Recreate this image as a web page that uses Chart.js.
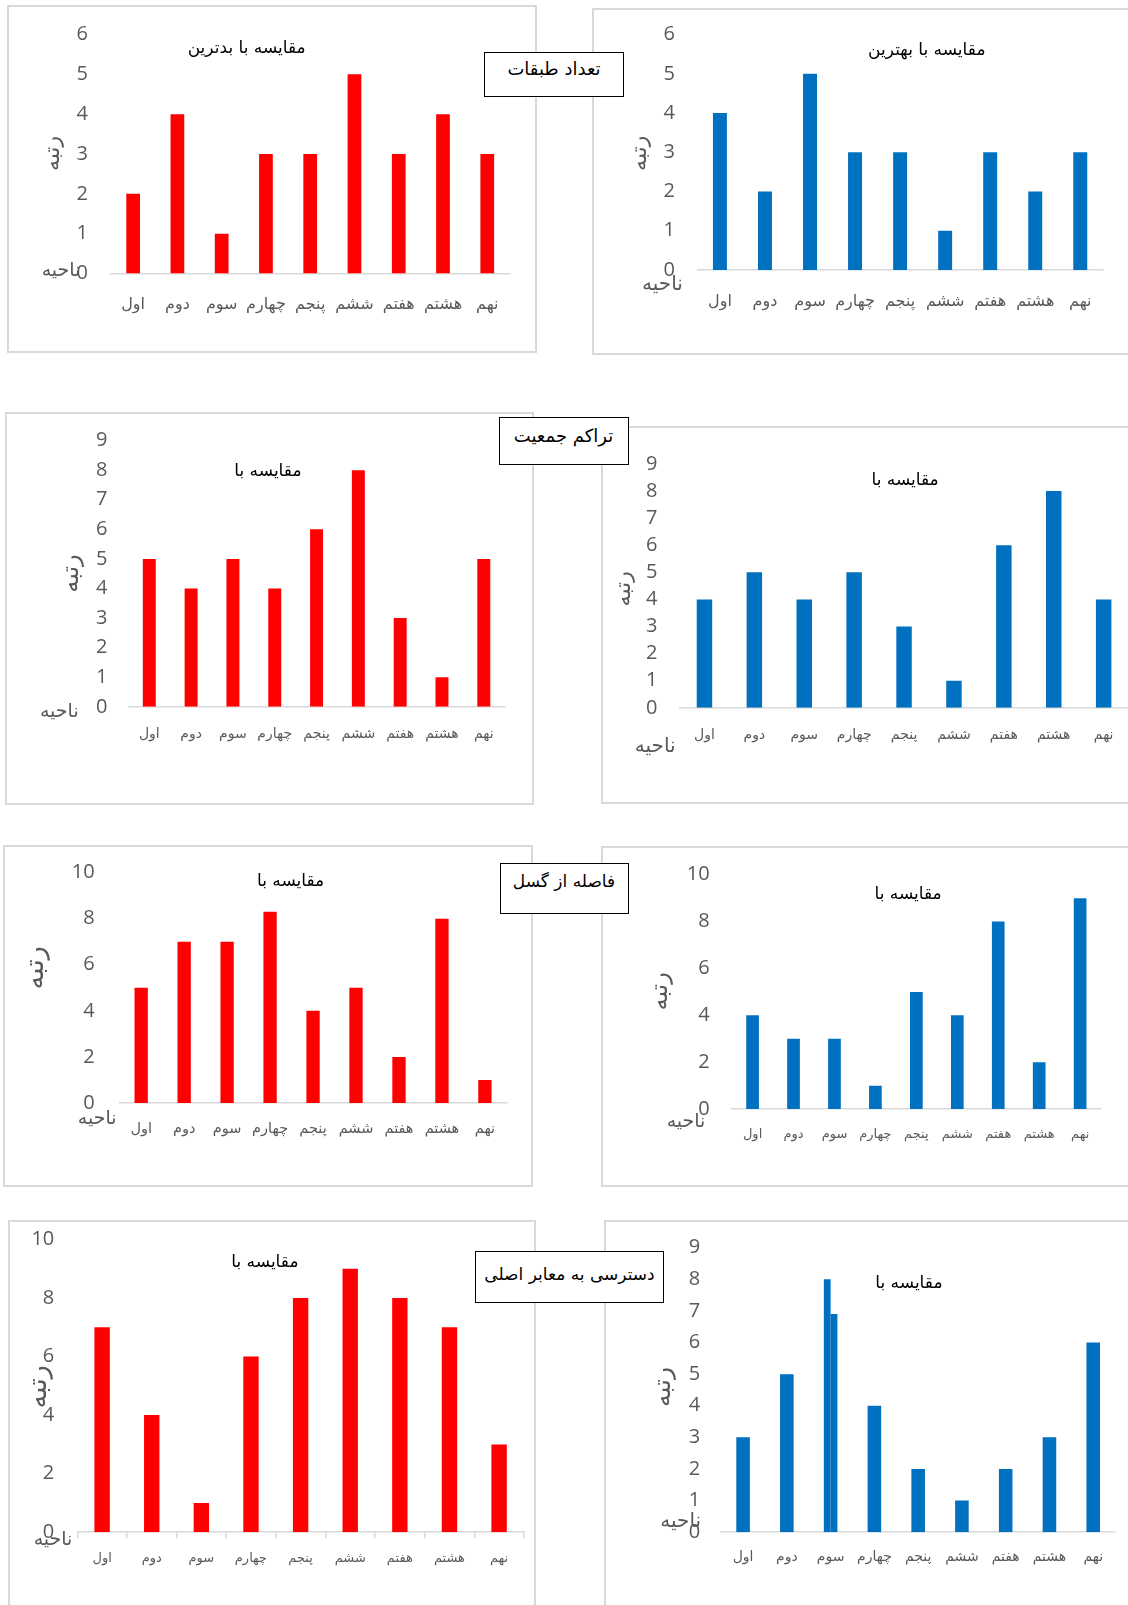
<!DOCTYPE html>
<html lang="fa">
<head>
<meta charset="utf-8">
<script src="https://cdn.jsdelivr.net/npm/chart.js@4.4.1/dist/chart.umd.min.js"></script>
<style>
  html, body { margin: 0; padding: 0; background: #fff; }
  body { width: 1128px; height: 1605px; position: relative; overflow: hidden; }
  .frame { position: absolute; box-sizing: border-box; border: 2px solid #d9d9d9; }
  canvas.panel { position: absolute; }
  .group-label {
    position: absolute; box-sizing: border-box; border: 1.5px solid #000; background: #fff;
    font-family: 'DejaVu Sans', sans-serif; line-height: 20px; color: #000;
    text-align: center; direction: rtl; white-space: nowrap; z-index: 5;
  }
</style>
</head>
<body>
<script>
// Districts (x categories)
const categories = ['اول', 'دوم', 'سوم', 'چهارم', 'پنجم', 'ششم', 'هفتم', 'هشتم', 'نهم'];

// Rank of each district, compared with the worst / the best
const floorsWorst  = [2, 4, 1, 3, 3, 5, 3, 4, 3];
const floorsBest   = [4, 2, 5, 3, 3, 1, 3, 2, 3];
const densityWorst = [5, 4, 5, 4, 6, 8, 3, 1, 5];
const densityBest  = [4, 5, 4, 5, 3, 1, 6, 8, 4];
const faultWorst   = [5, 7, 7, 8.3, 4, 5, 2, 8, 1];
const faultBest    = [4, 3, 3, 1, 5, 4, 8, 2, 9];
const roadsWorst   = [7, 4, 1, 6, 8, 9, 8, 7, 3];
const roadsBest    = [3, 5, 6.9, 4, 2, 1, 2, 3, 6];
const roadsBestPeak = [null, null, 8, null, null, null, null, null, null];

// Value axis range and tick step of each panel
const yMax  = [6, 6, 9, 9, 10, 10, 10, 9];
const yStep = [1, 1, 1, 1, 2, 2, 2, 1];

const panelTitles = ['مقایسه با بدترین', 'مقایسه با بهترین', 'مقایسه با', 'مقایسه با',
                     'مقایسه با', 'مقایسه با', 'مقایسه با', 'مقایسه با'];
const groupTitles = ['تعداد طبقات', 'تراکم جمعیت', 'فاصله از گسل', 'دسترسی به معابر اصلی'];
const yAxisTitle = 'رتبه';
const xAxisTitle = 'ناحیه';

const RED = '#FF0000';
const BLUE = '#0070C0';

const series = [
  { values: floorsWorst,  color: RED },
  { values: floorsBest,   color: BLUE },
  { values: densityWorst, color: RED },
  { values: densityBest,  color: BLUE },
  { values: faultWorst,   color: RED },
  { values: faultBest,    color: BLUE },
  { values: roadsWorst,   color: RED },
  { values: roadsBest,    color: BLUE, peak: roadsBestPeak }
];

// Page layout: frame [x, y, w, h], plot area [left, right, top, bottom],
// label paddings, font sizes and free text positions (page pixels)
const panels = [
  { box: [7, 5, 530, 348],        plot: [111, 509.4, 34.5, 273.5],    yPad: 23,   xPad: 22,  cat: 16, tick: 20,
    title: [246.7, 49],   yT: [53, 153.5],    xT: [61, 271],      ySize: 22, xSize: 19 },
  { box: [591.6, 8.2, 570, 347],  plot: [697, 1102.4, 34.8, 270.2],   yPad: 22.5, xPad: 22,  cat: 16, tick: 20,
    title: [926.4, 51.2], yT: [640, 153.5],   xT: [662, 284.5],   ySize: 22, xSize: 20 },
  { box: [5.1, 411.5, 529.2, 393],plot: [128.5, 505, 440.1, 706.3],   yPad: 21,   xPad: 19,  cat: 14, tick: 20,
    title: [268, 470.9],  yT: [71.6, 573],    xT: [59.4, 711.4],  ySize: 24, xSize: 19 },
  { box: [600.8, 425.8, 570, 378.7], plot: [679.3, 1128.4, 463.7, 707.3], yPad: 22, xPad: 19, cat: 14, tick: 20,
    title: [904.9, 480],  yT: [624.4, 588.6], xT: [655, 747],     ySize: 22, xSize: 20 },
  { box: [3.1, 844.5, 530.2, 342.9], plot: [119.8, 506.7, 872.1, 1102.4], yPad: 25, xPad: 18, cat: 14.5, tick: 20,
    title: [290.7, 881.3], yT: [35.8, 967.3], xT: [97.2, 1118.8], ySize: 27, xSize: 19 },
  { box: [600.8, 845.5, 570, 341.9], plot: [731.9, 1100.4, 874.2, 1108.5], yPad: 22.5, xPad: 18, cat: 13, tick: 20,
    title: [907.9, 893.6], yT: [660.2, 990.8], xT: [685.8, 1121.9], ySize: 24, xSize: 19 },
  { box: [8.2, 1220.1, 528.2, 420], plot: [77.5, 524.3, 1239.6, 1532.3], yPad: 23, xPad: 13, cat: 13, tick: 20,
    title: [265.1, 1263.1], yT: [38.9, 1387], xT: [53.2, 1540.5], ySize: 27, xSize: 19, tickMarks: true },
  { box: [604, 1220.1, 570, 420],   plot: [721.2, 1115.1, 1247.8, 1532.3], yPad: 21, xPad: 17, cat: 14, tick: 20,
    title: [908.9, 1283.6], yT: [663.3, 1387], xT: [680.7, 1522.1], ySize: 25, xSize: 20 }
];

// Framed group captions placed between the two panels of each row
const groupBoxes = [
  { rect: [484, 51.7, 140, 45.6],  padTop: 6,  size: 18 },
  { rect: [498.5, 416.6, 130, 48], padTop: 8,  size: 18 },
  { rect: [499.5, 862.9, 129, 51], padTop: 7,  size: 17 },
  { rect: [475, 1250.8, 189, 52],  padTop: 12, size: 17 }
];

// Draws the panel title and the two axis captions at fixed spots
const panelText = {
  id: 'panelText',
  afterDraw(chart, _args, o) {
    const ctx = chart.ctx;
    ctx.save();
    ctx.textAlign = 'center';
    ctx.textBaseline = 'middle';
    ctx.fillStyle = '#000';
    ctx.font = "17px 'DejaVu Sans', sans-serif";
    ctx.fillText(o.title, o.titleX, o.titleY);
    ctx.fillStyle = '#595959';
    ctx.font = o.xSize + "px 'DejaVu Sans', sans-serif";
    ctx.fillText(o.xTitle, o.xTitleX, o.xTitleY);
    ctx.font = o.ySize + "px 'DejaVu Sans', sans-serif";
    ctx.translate(o.yTitleX, o.yTitleY);
    ctx.rotate(-Math.PI / 2);
    ctx.fillText(o.yTitle, 0, 0);
    ctx.restore();
  }
};

panels.forEach((p, i) => {
  const [bx, by, bw, bh] = p.box;
  const [pl, pr, pt, pb] = p.plot;

  const frame = document.createElement('div');
  frame.className = 'frame';
  Object.assign(frame.style, { left: bx + 'px', top: by + 'px', width: bw + 'px', height: bh + 'px' });
  document.body.appendChild(frame);

  const cv = document.createElement('canvas');
  cv.className = 'panel';
  cv.width = Math.round(bw);
  cv.height = Math.round(bh);
  Object.assign(cv.style, { left: bx + 'px', top: by + 'px' });
  document.body.appendChild(cv);

  const s = series[i];
  const barStyle = { backgroundColor: s.color, borderWidth: 0, skipNull: true,
                     categoryPercentage: 0.31, barPercentage: 1 };
  const datasets = [];
  if (s.peak) datasets.push(Object.assign({ data: s.peak }, barStyle));
  datasets.push(Object.assign({ data: s.values }, barStyle));

  new Chart(cv, {
    type: 'bar',
    data: { labels: categories, datasets },
    options: {
      responsive: false,
      animation: false,
      events: [],
      layout: { padding: { left: 0, top: pt - by, right: bx + bw - pr, bottom: 0 } },
      plugins: {
        legend: { display: false },
        tooltip: { enabled: false },
        panelText: {
          title: panelTitles[i], titleX: p.title[0] - bx, titleY: p.title[1] - by,
          yTitle: yAxisTitle, yTitleX: p.yT[0] - bx, yTitleY: p.yT[1] - by, ySize: p.ySize,
          xTitle: xAxisTitle, xTitleX: p.xT[0] - bx, xTitleY: p.xT[1] - by, xSize: p.xSize
        }
      },
      scales: {
        x: {
          offset: true,
          grid: { display: !!p.tickMarks, drawOnChartArea: false, drawTicks: !!p.tickMarks,
                  tickLength: 6, offset: true, color: '#d9d9d9', lineWidth: 1.5 },
          border: { display: true, color: '#d9d9d9', width: 1.5 },
          ticks: { color: '#595959', font: { family: "'DejaVu Sans', sans-serif", size: p.cat },
                   padding: p.xPad, maxRotation: 0, autoSkip: false },
          afterFit(sc) { sc.height = by + bh - pb; sc.paddingLeft = 0; sc.paddingRight = 0; }
        },
        y: {
          min: 0, max: yMax[i],
          grid: { display: false, drawTicks: false },
          border: { display: false },
          ticks: { stepSize: yStep[i], color: '#595959',
                   font: { family: "'Open Sans', sans-serif", size: p.tick }, padding: p.yPad },
          afterFit(sc) { sc.width = pl - bx; sc.paddingTop = 0; sc.paddingBottom = 0; }
        }
      }
    },
    plugins: [panelText]
  });
});

groupBoxes.forEach((g, i) => {
  const [x, y, w, h] = g.rect;
  const d = document.createElement('div');
  d.className = 'group-label';
  d.textContent = groupTitles[i];
  Object.assign(d.style, { left: x + 'px', top: y + 'px', width: w + 'px', height: h + 'px',
                           paddingTop: g.padTop + 'px', fontSize: g.size + 'px' });
  document.body.appendChild(d);
});
</script>
</body>
</html>
